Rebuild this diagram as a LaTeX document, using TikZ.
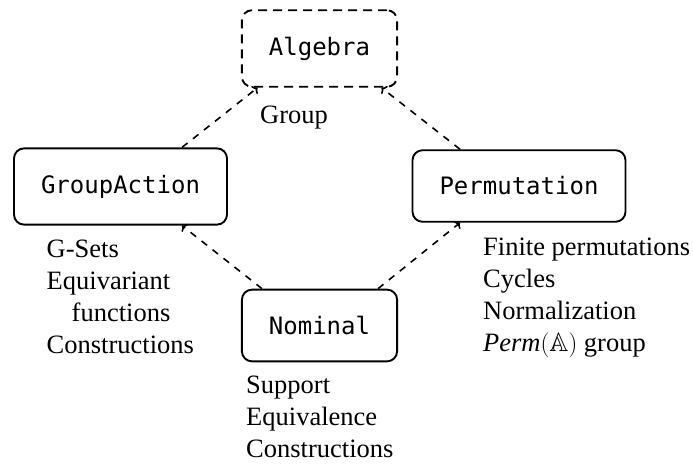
\documentclass[tikz,border=0pt]{standalone}
\usepackage{amssymb}
\usepackage{fontspec}
\setmainfont{Liberation Serif}
\setmonofont{DejaVu Sans Mono}
\usetikzlibrary{arrows.meta}
\tikzset{
  modbox/.style={draw, rounded corners=10pt, line width=1.9pt, inner xsep=27pt, inner ysep=26.5pt,
    font=\ttfamily\fontsize{24}{28}\selectfont},
  dashbox/.style={modbox, dash pattern=on 9pt off 6pt},
  conn/.style={line width=1.6pt, dash pattern=on 7pt off 7pt, -{To[length=4.5pt,width=10pt]}},
  lbl/.style={inner sep=0pt, align=left, font=\fontsize{26.5}{31.8}\selectfont}
}
\begin{document}
\begin{tikzpicture}[x=1pt,y=-1pt]
\useasboundingbox (0,0) rectangle (693,463);
\node[dashbox] (alg) at (319.5,48.5) {Algebra};
\node[modbox] (ga) at (120.5,186.5) {GroupAction};
\node[modbox] (perm) at (519,186) {Permutation};
\node[modbox] (nom) at (319.5,325.5) {Nominal};

\draw[conn] ([xshift=61.5pt]ga.north) -- ([xshift=-62pt]alg.south);
\draw[conn] ([xshift=-59pt]perm.north) -- ([xshift=62pt]alg.south);
\draw[conn] ([xshift=-57.5pt]nom.north) -- ([xshift=61.5pt]ga.south);
\draw[conn] ([xshift=58.5pt]nom.north) -- ([xshift=-59pt]perm.south);

\node[lbl, anchor=base west] (grp) at (260,123) {Group};
\node[lbl, anchor=north west] (galbl) at (46.5,240) {G-Sets\\Equivariant\\\hspace*{25pt}functions\\Constructions};
\node[lbl, anchor=north west] (permlbl) at (483,238) {Finite permutations\\Cycles\\Normalization\\\textit{Perm}$(\mathbb{A})$ group};
\node[lbl, anchor=north west] (nomlbl) at (246,376) {Support\\Equivalence\\Constructions};
\end{tikzpicture}
\end{document}
